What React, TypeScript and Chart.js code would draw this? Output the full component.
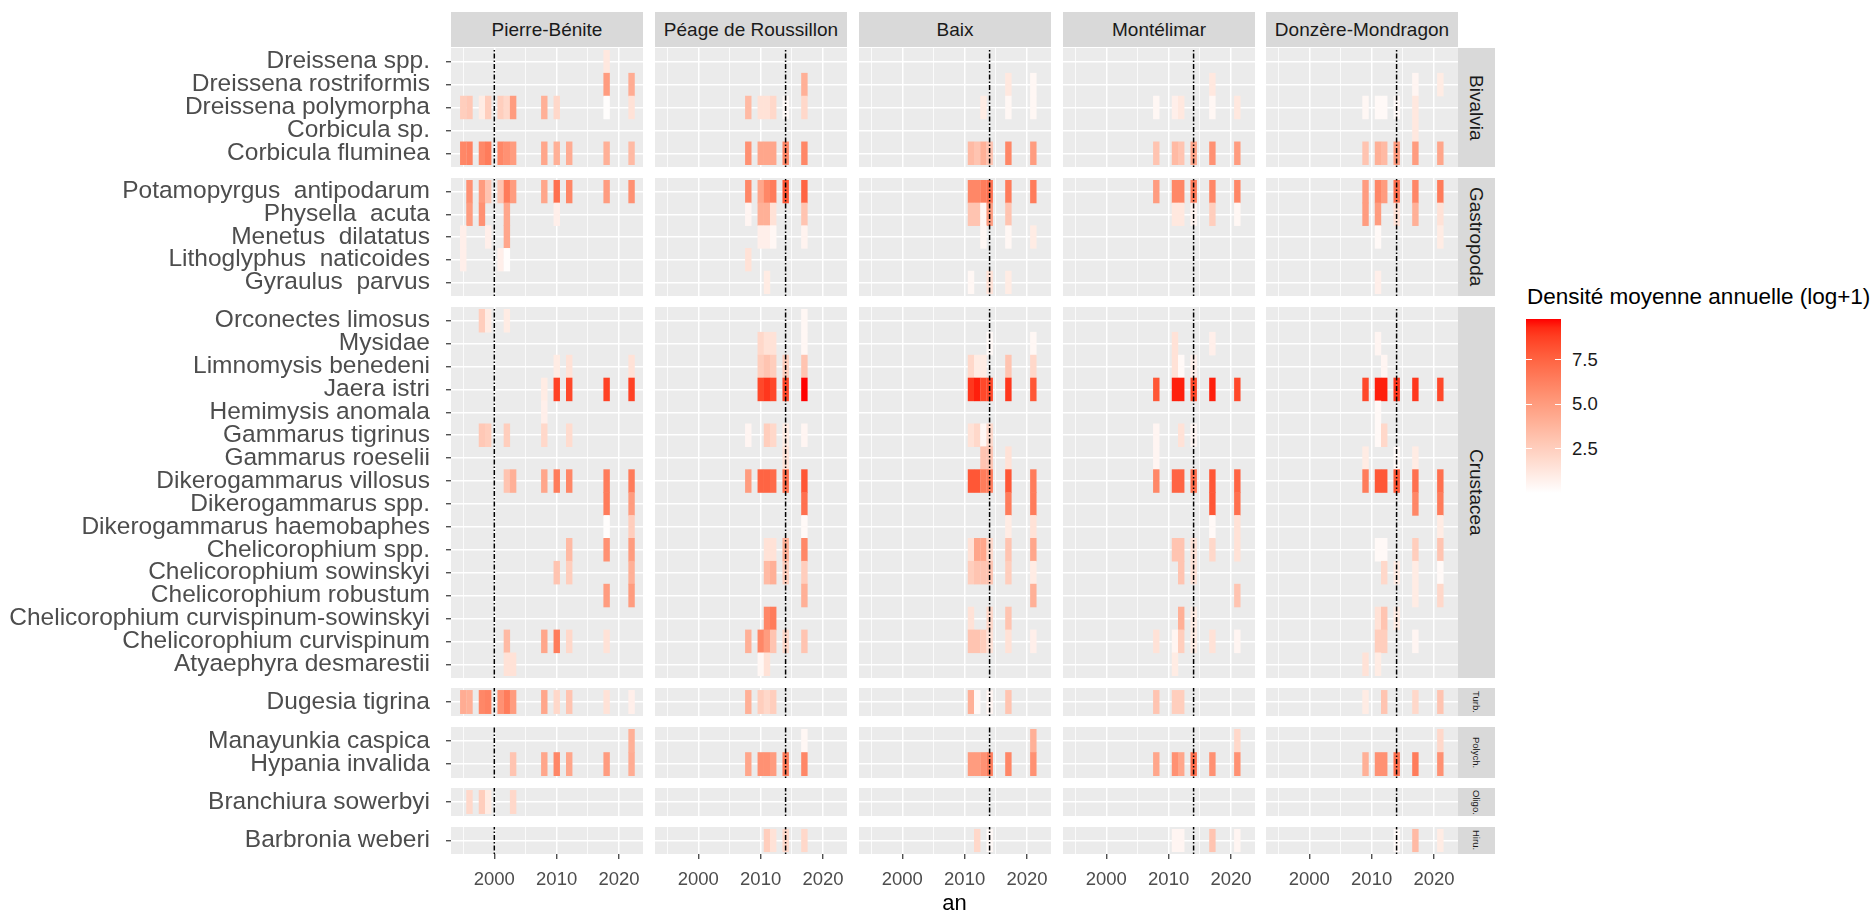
import React, { useEffect, useRef } from 'react';
import { Chart, registerables } from 'chart.js';

Chart.register(...registerables);

const FONT = "'Liberation Sans', Arial, Helvetica, sans-serif";
Chart.defaults.font.family = FONT;

// ---------------- data ----------------
const SITES = ['Pierre-Bénite', 'Péage de Roussillon', 'Baix', 'Montélimar', 'Donzère-Mondragon'];
const BREAK_YEARS = [2000, 2014, 2014, 2014, 2014];
const GROUP_LABELS = ['Bivalvia', 'Gastropoda', 'Crustacea', 'Turb.', 'Polych.', 'Oligo.', 'Hiru.'];

const BIVALVIA = ['Dreissena spp.', 'Dreissena rostriformis', 'Dreissena polymorpha', 'Corbicula sp.', 'Corbicula fluminea'];
const GASTROPODA = ['Potamopyrgus  antipodarum', 'Physella  acuta', 'Menetus  dilatatus', 'Lithoglyphus  naticoides', 'Gyraulus  parvus'];
const CRUSTACEA = [
  'Orconectes limosus', 'Mysidae', 'Limnomysis benedeni', 'Jaera istri', 'Hemimysis anomala',
  'Gammarus tigrinus', 'Gammarus roeselii', 'Dikerogammarus villosus', 'Dikerogammarus spp.',
  'Dikerogammarus haemobaphes', 'Chelicorophium spp.', 'Chelicorophium sowinskyi', 'Chelicorophium robustum',
  'Chelicorophium curvispinum-sowinskyi', 'Chelicorophium curvispinum', 'Atyaephyra desmarestii',
];
const TURBELLARIA = ['Dugesia tigrina'];
const POLYCHAETA = ['Manayunkia caspica', 'Hypania invalida'];
const OLIGOCHAETA = ['Branchiura sowerbyi'];
const HIRUDINEA = ['Barbronia weberi'];
const GROUP_SPECIES = [BIVALVIA, GASTROPODA, CRUSTACEA, TURBELLARIA, POLYCHAETA, OLIGOCHAETA, HIRUDINEA];

const X_MAJOR = [2000, 2010, 2020];
const X_MINOR = [1995, 2005, 2015];
const X_MIN = 1993.05;
const X_MAX = 2023.85;
const LEGEND_TICKS = [2.5, 5.0, 7.5];
const VALUE_MIN = 0;
const VALUE_MAX = 9.8;

type Row = [string, number[], number[]];

const PIERRE_BENITE: Row[] = [
  ['Dreissena spp.', [2018], [1.2]],
  ['Dreissena rostriformis', [2018, 2022], [5.0, 4.2]],
  ['Dreissena polymorpha', [1995, 1996, 1998, 1999, 2001, 2002, 2003, 2008, 2010, 2018, 2022], [2.5, 2.8, 1.0, 2.5, 2.5, 2.0, 5.0, 4.0, 2.0, 0.1, 1.5]],
  ['Corbicula fluminea', [1995, 1996, 1998, 1999, 2001, 2002, 2003, 2008, 2010, 2012, 2018, 2022], [6.0, 6.2, 6.0, 6.5, 6.0, 5.5, 5.0, 4.5, 4.0, 4.2, 4.0, 3.5]],
  ['Potamopyrgus antipodarum', [1996, 1998, 1999, 2001, 2002, 2003, 2008, 2010, 2012, 2018, 2022], [5.5, 5.0, 3.0, 3.0, 6.5, 5.0, 4.5, 7.0, 6.0, 5.0, 5.5]],
  ['Physella acuta', [1996, 1998, 2002, 2010], [5.0, 5.5, 4.5, 0.8]],
  ['Menetus dilatatus', [1995, 1999, 2002], [0.8, 0.8, 4.5]],
  ['Lithoglyphus naticoides', [1995, 2001, 2002], [0.8, 0.8, 0.1]],
  ['Orconectes limosus', [1998, 1999, 2002], [2.5, 1.0, 1.0]],
  ['Limnomysis benedeni', [2010, 2012, 2022], [1.0, 1.5, 1.5]],
  ['Jaera istri', [2008, 2010, 2012, 2018, 2022], [1.0, 8.7, 8.5, 8.7, 8.7]],
  ['Hemimysis anomala', [2008], [0.8]],
  ['Gammarus tigrinus', [1998, 1999, 2002, 2008, 2012], [2.8, 2.5, 2.5, 2.0, 1.8]],
  ['Dikerogammarus villosus', [2002, 2003, 2008, 2010, 2012, 2018, 2022], [3.0, 4.0, 4.5, 6.5, 6.0, 6.5, 6.5]],
  ['Dikerogammarus spp.', [2018, 2022], [6.5, 5.0]],
  ['Dikerogammarus haemobaphes', [2018, 2022], [0.1, 2.5]],
  ['Chelicorophium spp.', [2012, 2018, 2022], [3.5, 5.5, 5.0]],
  ['Chelicorophium sowinskyi', [2010, 2012, 2022], [3.0, 2.5, 4.0]],
  ['Chelicorophium robustum', [2018, 2022], [5.0, 5.0]],
  ['Chelicorophium curvispinum', [2002, 2008, 2010, 2012, 2018], [3.5, 4.5, 6.5, 2.0, 1.5]],
  ['Atyaephyra desmarestii', [2002, 2003], [1.5, 1.5]],
  ['Dugesia tigrina', [1995, 1996, 1998, 1999, 2001, 2002, 2003, 2008, 2010, 2012, 2018, 2022], [4.2, 4.0, 6.0, 6.2, 5.5, 6.5, 5.0, 4.5, 2.0, 3.0, 1.5, 0.8]],
  ['Manayunkia caspica', [2022], [4.0]],
  ['Hypania invalida', [2003, 2008, 2010, 2012, 2018, 2022], [3.0, 4.5, 6.0, 4.5, 5.0, 4.2]],
  ['Branchiura sowerbyi', [1996, 1998, 1999, 2003], [2.0, 2.5, 1.0, 2.0]],
];

const PEAGE_DE_ROUSSILLON: Row[] = [
  ['Dreissena rostriformis', [2017], [4.0]],
  ['Dreissena polymorpha', [2008, 2010, 2011, 2012, 2014, 2017], [3.5, 1.5, 1.5, 2.0, 0.3, 2.0]],
  ['Corbicula fluminea', [2008, 2010, 2011, 2012, 2014, 2017], [5.5, 4.5, 4.5, 4.5, 6.0, 6.0]],
  ['Potamopyrgus antipodarum', [2008, 2010, 2011, 2012, 2014, 2017], [6.0, 4.5, 6.0, 6.5, 8.0, 7.5]],
  ['Physella acuta', [2008, 2010, 2011, 2012, 2017], [0.5, 4.0, 4.0, 1.5, 3.0]],
  ['Menetus dilatatus', [2010, 2011, 2012, 2017], [0.8, 0.8, 0.4, 0.6]],
  ['Lithoglyphus naticoides', [2008], [1.5]],
  ['Gyraulus parvus', [2011], [1.0]],
  ['Orconectes limosus', [2017], [0.4]],
  ['Mysidae', [2010, 2011, 2012, 2017], [2.0, 1.5, 1.5, 0.4]],
  ['Limnomysis benedeni', [2010, 2011, 2012, 2014, 2017], [2.5, 3.0, 2.5, 2.5, 3.0]],
  ['Jaera istri', [2010, 2011, 2012, 2014, 2017], [8.5, 9.0, 8.5, 8.5, 9.8]],
  ['Gammarus tigrinus', [2008, 2011, 2012, 2014, 2017], [0.5, 2.5, 2.0, 1.0, 0.5]],
  ['Gammarus roeselii', [2014], [1.5]],
  ['Dikerogammarus villosus', [2008, 2010, 2011, 2012, 2014, 2017], [5.0, 7.5, 7.5, 7.2, 7.0, 8.0]],
  ['Dikerogammarus spp.', [2017], [7.0]],
  ['Dikerogammarus haemobaphes', [2017], [0.3]],
  ['Chelicorophium spp.', [2011, 2012, 2014, 2017], [1.5, 1.5, 4.0, 6.0]],
  ['Chelicorophium sowinskyi', [2011, 2012, 2014, 2017], [3.5, 4.0, 2.5, 2.5]],
  ['Chelicorophium robustum', [2017], [4.0]],
  ['Chelicorophium curvispinum-sowinskyi', [2011, 2012], [6.0, 6.5]],
  ['Chelicorophium curvispinum', [2008, 2010, 2011, 2012, 2014, 2017], [4.0, 6.0, 5.0, 3.0, 2.0, 3.0]],
  ['Atyaephyra desmarestii', [2010, 2011], [0.4, 1.5]],
  ['Dugesia tigrina', [2008, 2010, 2011, 2012], [4.0, 2.5, 2.0, 2.5]],
  ['Manayunkia caspica', [2017], [0.4]],
  ['Hypania invalida', [2008, 2010, 2011, 2012, 2014, 2017], [4.5, 5.5, 5.5, 5.0, 6.5, 6.0]],
  ['Barbronia weberi', [2011, 2012, 2014, 2017], [2.5, 1.5, 2.0, 2.0]],
];

const BAIX: Row[] = [
  ['Dreissena rostriformis', [2017, 2021], [1.2, 0.4]],
  ['Dreissena polymorpha', [2013, 2017, 2021], [1.0, 0.4, 0.4]],
  ['Corbicula fluminea', [2011, 2012, 2013, 2014, 2017, 2021], [3.5, 3.0, 4.0, 3.0, 6.0, 5.0]],
  ['Potamopyrgus antipodarum', [2011, 2012, 2013, 2014, 2017, 2021], [6.0, 6.0, 6.5, 7.0, 6.5, 6.5]],
  ['Physella acuta', [2011, 2012, 2013, 2014, 2017], [3.0, 3.0, 0.4, 5.0, 3.0]],
  ['Menetus dilatatus', [2013, 2017, 2021], [0.4, 0.4, 1.0]],
  ['Gyraulus parvus', [2011, 2014, 2017], [0.4, 1.5, 1.0]],
  ['Mysidae', [2014, 2021], [0.3, 0.4]],
  ['Limnomysis benedeni', [2011, 2012, 2013, 2017, 2021], [2.0, 1.0, 1.0, 3.0, 2.0]],
  ['Jaera istri', [2011, 2012, 2013, 2014, 2017, 2021], [9.0, 9.5, 8.5, 8.5, 9.0, 8.0]],
  ['Gammarus tigrinus', [2011, 2012, 2013, 2014], [1.5, 2.0, 0.4, 2.0]],
  ['Gammarus roeselii', [2013, 2014, 2017], [3.0, 3.0, 1.5]],
  ['Dikerogammarus villosus', [2011, 2012, 2013, 2014, 2017, 2021], [8.0, 8.0, 6.5, 6.5, 8.0, 6.5]],
  ['Dikerogammarus spp.', [2017, 2021], [6.5, 6.5]],
  ['Dikerogammarus haemobaphes', [2017, 2021], [1.0, 1.5]],
  ['Chelicorophium spp.', [2011, 2012, 2013, 2014, 2017, 2021], [1.5, 4.5, 4.5, 2.0, 3.0, 4.5]],
  ['Chelicorophium sowinskyi', [2011, 2012, 2013, 2014, 2017, 2021], [2.5, 3.0, 3.0, 3.0, 2.5, 1.0]],
  ['Chelicorophium robustum', [2021], [4.0]],
  ['Chelicorophium curvispinum-sowinskyi', [2011, 2014, 2017], [1.5, 2.0, 3.0]],
  ['Chelicorophium curvispinum', [2011, 2012, 2013, 2014, 2017, 2021], [3.0, 3.0, 2.5, 1.5, 1.5, 0.8]],
  ['Dugesia tigrina', [2011, 2012, 2014, 2017], [4.0, 0.3, 0.5, 3.0]],
  ['Manayunkia caspica', [2021], [4.0]],
  ['Hypania invalida', [2011, 2012, 2013, 2014, 2017, 2021], [5.0, 5.0, 5.5, 6.5, 6.0, 5.5]],
  ['Barbronia weberi', [2012, 2014], [2.0, 0.3]],
];

const MONTELIMAR: Row[] = [
  ['Dreissena rostriformis', [2017], [1.2]],
  ['Dreissena polymorpha', [2008, 2011, 2012, 2017, 2021], [0.4, 0.8, 1.2, 0.4, 1.2]],
  ['Corbicula fluminea', [2008, 2011, 2012, 2014, 2017, 2021], [3.0, 3.5, 3.0, 4.5, 5.5, 5.0]],
  ['Potamopyrgus antipodarum', [2008, 2011, 2012, 2014, 2017, 2021], [5.0, 6.0, 6.0, 6.5, 6.0, 6.0]],
  ['Physella acuta', [2011, 2012, 2014, 2017, 2021], [1.2, 1.2, 0.6, 2.5, 0.4]],
  ['Mysidae', [2011, 2017], [1.5, 0.8]],
  ['Limnomysis benedeni', [2011, 2012, 2014], [1.5, 0.3, 0.8]],
  ['Jaera istri', [2008, 2011, 2012, 2014, 2017, 2021], [8.0, 9.5, 9.5, 8.5, 9.5, 8.5]],
  ['Gammarus tigrinus', [2008, 2012, 2014], [0.5, 1.5, 0.5]],
  ['Gammarus roeselii', [2008], [0.5]],
  ['Dikerogammarus villosus', [2008, 2011, 2012, 2014, 2017, 2021], [6.0, 7.5, 7.5, 7.0, 8.0, 7.5]],
  ['Dikerogammarus spp.', [2017, 2021], [8.0, 7.0]],
  ['Dikerogammarus haemobaphes', [2017, 2021], [0.3, 1.5]],
  ['Chelicorophium spp.', [2011, 2012, 2014, 2017, 2021], [3.0, 3.0, 1.5, 2.0, 1.5]],
  ['Chelicorophium sowinskyi', [2012, 2014], [3.0, 1.5]],
  ['Chelicorophium robustum', [2021], [3.0]],
  ['Chelicorophium curvispinum-sowinskyi', [2012, 2014], [4.0, 1.0]],
  ['Chelicorophium curvispinum', [2008, 2011, 2012, 2014, 2017, 2021], [1.5, 0.5, 2.5, 1.0, 1.5, 0.5]],
  ['Atyaephyra desmarestii', [2011], [1.0]],
  ['Dugesia tigrina', [2008, 2011, 2012], [3.0, 2.5, 2.5]],
  ['Manayunkia caspica', [2021], [2.0]],
  ['Hypania invalida', [2008, 2011, 2012, 2014, 2017, 2021], [4.5, 5.5, 4.5, 7.0, 5.5, 5.5]],
  ['Barbronia weberi', [2011, 2012, 2017, 2021], [0.5, 0.5, 3.0, 0.5]],
];

const DONZERE_MONDRAGON: Row[] = [
  ['Dreissena rostriformis', [2017, 2021], [0.5, 1.0]],
  ['Dreissena polymorpha', [2009, 2011, 2012, 2014, 2017], [0.4, 0.3, 0.3, 0.3, 1.2]],
  ['Corbicula sp.', [2017], [1.2]],
  ['Corbicula fluminea', [2009, 2011, 2012, 2014, 2017, 2021], [3.0, 4.0, 3.5, 5.0, 5.0, 4.5]],
  ['Potamopyrgus antipodarum', [2009, 2011, 2012, 2014, 2017, 2021], [5.0, 6.0, 5.0, 7.0, 6.0, 6.5]],
  ['Physella acuta', [2009, 2011, 2014, 2017, 2021], [5.0, 5.0, 1.5, 4.0, 1.5]],
  ['Menetus dilatatus', [2011, 2021], [0.3, 1.0]],
  ['Gyraulus parvus', [2011], [0.8]],
  ['Mysidae', [2011], [0.5]],
  ['Limnomysis benedeni', [2012], [0.5]],
  ['Jaera istri', [2009, 2011, 2012, 2014, 2017, 2021], [8.5, 9.5, 9.5, 9.0, 9.0, 8.5]],
  ['Hemimysis anomala', [2011], [0.3]],
  ['Gammarus tigrinus', [2011, 2012], [0.3, 2.0]],
  ['Gammarus roeselii', [2009, 2014, 2017], [1.0, 0.3, 1.0]],
  ['Dikerogammarus villosus', [2009, 2011, 2012, 2014, 2017, 2021], [6.5, 8.0, 8.0, 8.0, 7.0, 7.0]],
  ['Dikerogammarus spp.', [2017, 2021], [6.0, 6.5]],
  ['Dikerogammarus haemobaphes', [2021], [1.0]],
  ['Chelicorophium spp.', [2011, 2012, 2017, 2021], [0.3, 0.3, 2.5, 3.0]],
  ['Chelicorophium sowinskyi', [2012, 2014, 2017, 2021], [2.0, 1.0, 1.0, 0.3]],
  ['Chelicorophium robustum', [2017, 2021], [1.0, 2.0]],
  ['Chelicorophium curvispinum-sowinskyi', [2011, 2012, 2014], [1.5, 3.0, 1.0]],
  ['Chelicorophium curvispinum', [2011, 2012, 2017], [2.5, 2.5, 0.5]],
  ['Atyaephyra desmarestii', [2009, 2011], [1.5, 1.0]],
  ['Dugesia tigrina', [2009, 2012, 2017, 2021], [1.0, 3.0, 2.0, 3.0]],
  ['Manayunkia caspica', [2021], [2.0]],
  ['Hypania invalida', [2009, 2011, 2012, 2014, 2017, 2021], [4.0, 5.5, 5.5, 7.0, 6.5, 5.5]],
  ['Barbronia weberi', [2014, 2017, 2021], [0.3, 3.5, 1.0]],
];

const SITE_DATA = [PIERRE_BENITE, PEAGE_DE_ROUSSILLON, BAIX, MONTELIMAR, DONZERE_MONDRAGON];

// ---------------- layout ----------------
const COL_LEFT = [451, 655, 859, 1063, 1266];
const PANEL_W = 192;
const ROW_TOP = [48, 178, 307, 688, 727, 788, 827];
const ROW_BOTTOM = [167, 296, 678, 716, 778, 816, 854];
const STRIP_TOP = 12;
const STRIP_H = 35;
const RSTRIP_LEFT = 1458;
const RSTRIP_W = 37;
const X_AXIS_H = 44;

// ---------------- colour (Lab interpolation white -> red) ----------------
const toLin = (c: number) => { c /= 255; return c <= 0.04045 ? c / 12.92 : Math.pow((c + 0.055) / 1.055, 2.4); };
const fromLin = (c: number) => {
  const v = c <= 0.0031308 ? 12.92 * c : 1.055 * Math.pow(c, 1 / 2.4) - 0.055;
  return Math.round(Math.max(0, Math.min(1, v)) * 255);
};
const Xn = 0.95047, Yn = 1.0, Zn = 1.08883;
const fLab = (t: number) => (t > 216 / 24389 ? Math.cbrt(t) : ((24389 / 27) * t + 16) / 116);
const fInv = (t: number) => (t * t * t > 216 / 24389 ? t * t * t : (116 * t - 16) / (24389 / 27));
function rgb2lab(rgb: number[]) {
  const R = toLin(rgb[0]), G = toLin(rgb[1]), B = toLin(rgb[2]);
  const X = (0.4124564 * R + 0.3575761 * G + 0.1804375 * B) / Xn;
  const Y = (0.2126729 * R + 0.7151522 * G + 0.072175 * B) / Yn;
  const Z = (0.0193339 * R + 0.119192 * G + 0.9503041 * B) / Zn;
  const fx = fLab(X), fy = fLab(Y), fz = fLab(Z);
  return [116 * fy - 16, 500 * (fx - fy), 200 * (fy - fz)];
}
function lab2rgb(lab: number[]) {
  const fy = (lab[0] + 16) / 116, fx = fy + lab[1] / 500, fz = fy - lab[2] / 200;
  const X = fInv(fx) * Xn, Y = fInv(fy) * Yn, Z = fInv(fz) * Zn;
  const R = 3.2404542 * X - 1.5371385 * Y - 0.4985314 * Z;
  const G = -0.969266 * X + 1.8760108 * Y + 0.041556 * Z;
  const B = 0.0556434 * X - 0.2040259 * Y + 1.0572252 * Z;
  return [fromLin(R), fromLin(G), fromLin(B)];
}
const LAB_LOW = rgb2lab([255, 255, 255]);
const LAB_HIGH = rgb2lab([255, 0, 0]);
function fillColor(v: number) {
  const t = Math.max(0, Math.min(1, (v - VALUE_MIN) / (VALUE_MAX - VALUE_MIN)));
  const lab = LAB_LOW.map((l, i) => l + (LAB_HIGH[i] - l) * t);
  const [r, g, b] = lab2rgb(lab);
  return `rgb(${r},${g},${b})`;
}

const norm = (s: string) => s.replace(/\s+/g, ' ').trim();

// ---------------- panel ----------------
function Panel({ r, c }: { r: number; c: number }) {
  const ref = useRef<HTMLCanvasElement>(null);
  const species = GROUP_SPECIES[r];
  const isLeft = c === 0;
  const isBottom = r === GROUP_SPECIES.length - 1;
  const ph = ROW_BOTTOM[r] - ROW_TOP[r];
  const axisW = isLeft ? COL_LEFT[0] : 0;
  const axisH = isBottom ? X_AXIS_H : 0;
  const left = COL_LEFT[c] - axisW;
  const width = PANEL_W + axisW;
  const height = ph + axisH;

  useEffect(() => {
    const keys = species.map(norm);
    const points: { x: number[]; y: number }[] = [];
    const colors: string[] = [];
    SITE_DATA[c].forEach(([name, years, vals]) => {
      const idx = keys.indexOf(norm(name));
      if (idx < 0) return;
      years.forEach((yr, k) => {
        points.push({ x: [yr - 0.5, yr + 0.53], y: idx });
        colors.push(fillColor(vals[k]));
      });
    });
    const rowPx = ph / (species.length + 0.2);
    const breakYear = BREAK_YEARS[c];

    const chart = new Chart(ref.current as HTMLCanvasElement, {
      type: 'bar',
      data: {
        datasets: [
          {
            data: points as any,
            backgroundColor: colors,
            borderWidth: 0,
            barThickness: rowPx + 0.6,
            inflateAmount: 0,
          } as any,
        ],
      },
      options: {
        indexAxis: 'y',
        responsive: false,
        maintainAspectRatio: false,
        animation: false,
        devicePixelRatio: 1,
        events: [],
        layout: { padding: 0, autoPadding: false },
        plugins: { legend: { display: false }, tooltip: { enabled: false }, title: { display: false } },
        scales: {
          x: {
            type: 'linear',
            position: 'bottom',
            offset: false,
            beginAtZero: false,
            min: X_MIN,
            max: X_MAX,
            afterBuildTicks: (s: any) => {
              s.ticks = [...X_MINOR, ...X_MAJOR].sort((a, b) => a - b).map((v) => ({ value: v }));
            },
            afterFit: (s: any) => {
              s.height = axisH;
              s.paddingLeft = 0;
              s.paddingRight = 0;
            },
            border: { display: false },
            grid: {
              offset: false,
              color: '#FFFFFF',
              lineWidth: (ctx: any) => (X_MAJOR.includes(ctx.tick?.value) ? 1.5 : 0.8),
              drawTicks: isBottom,
              tickLength: 5,
              tickWidth: 1.2,
              tickColor: (ctx: any) => (X_MAJOR.includes(ctx.tick?.value) ? '#333333' : 'rgba(0,0,0,0)'),
            },
            ticks: {
              display: isBottom,
              autoSkip: false,
              maxRotation: 0,
              padding: 10,
              color: '#4D4D4D',
              font: { family: FONT, size: 18.5 },
              callback: (v: any) => (X_MAJOR.includes(Number(v)) ? String(v) : ''),
            },
          },
          y: {
            type: 'linear',
            reverse: true,
            offset: false,
            min: -0.6,
            max: species.length - 0.4,
            afterBuildTicks: (s: any) => {
              s.ticks = species.map((_, i) => ({ value: i }));
            },
            afterFit: (s: any) => {
              s.width = axisW;
              s.paddingTop = 0;
              s.paddingBottom = 0;
            },
            border: { display: false },
            grid: {
              offset: false,
              color: '#FFFFFF',
              lineWidth: 1.5,
              drawTicks: isLeft,
              tickLength: 5,
              tickWidth: 1.2,
              tickColor: '#333333',
            },
            ticks: {
              display: isLeft,
              autoSkip: false,
              padding: 16,
              color: '#4D4D4D',
              font: { family: FONT, size: 24.5 },
              callback: (v: any) => species[Number(v)] ?? '',
            },
          },
        },
      } as any,
      plugins: [
        {
          id: 'panelFrame',
          beforeDraw(ch: any) {
            const a = ch.chartArea;
            const g = ch.ctx;
            g.save();
            g.fillStyle = '#EBEBEB';
            g.fillRect(a.left, a.top, a.right - a.left, a.bottom - a.top);
            g.restore();
          },
          afterDatasetsDraw(ch: any) {
            const a = ch.chartArea;
            const g = ch.ctx;
            const x = ch.scales.x.getPixelForValue(breakYear);
            g.save();
            g.strokeStyle = '#000000';
            g.lineWidth = 1.5;
            g.setLineDash([1.5, 2, 5, 2]);
            g.beginPath();
            g.moveTo(x, a.bottom);
            g.lineTo(x, a.top);
            g.stroke();
            g.restore();
          },
        },
      ],
    });
    return () => chart.destroy();
  }, []);

  return (
    <canvas
      ref={ref}
      width={width}
      height={height}
      style={{ position: 'absolute', left, top: ROW_TOP[r], width, height }}
    />
  );
}

function Legend() {
  const barTop = 319, barH = 174, barLeft = 1526, barW = 35;
  const stops: string[] = [];
  for (let i = 0; i <= 20; i++) {
    const v = VALUE_MIN + ((VALUE_MAX - VALUE_MIN) * i) / 20;
    stops.push(`${fillColor(v)} ${(i / 20) * 100}%`);
  }
  const yOf = (v: number) => barTop + barH - ((v - VALUE_MIN) / (VALUE_MAX - VALUE_MIN)) * barH;
  return (
    <>
      <div style={{ position: 'absolute', left: 1527, top: 284, fontSize: 22.5, lineHeight: '26px', color: '#000', whiteSpace: 'nowrap', fontFamily: FONT }}>
        Densité moyenne annuelle (log+1)
      </div>
      <div style={{ position: 'absolute', left: barLeft, top: barTop, width: barW, height: barH, background: `linear-gradient(to top, ${stops.join(', ')})` }} />
      {LEGEND_TICKS.map((t) => (
        <React.Fragment key={t}>
          <div style={{ position: 'absolute', left: barLeft, top: yOf(t) - 0.5, width: 6, height: 1, background: '#FFFFFF' }} />
          <div style={{ position: 'absolute', left: barLeft + barW - 6, top: yOf(t) - 0.5, width: 6, height: 1, background: '#FFFFFF' }} />
          <div style={{ position: 'absolute', left: 1572, top: yOf(t) - 11, height: 22, lineHeight: '22px', fontSize: 18.5, color: '#1A1A1A', fontFamily: FONT }}>
            {t.toFixed(1)}
          </div>
        </React.Fragment>
      ))}
    </>
  );
}

export default function App() {
  const panels: JSX.Element[] = [];
  GROUP_SPECIES.forEach((_, r) => {
    SITES.forEach((__, c) => {
      panels.push(<Panel key={`${r}-${c}`} r={r} c={c} />);
    });
  });
  return (
    <div style={{ position: 'absolute', left: 0, top: 0, width: 1872, height: 913, overflow: 'hidden', background: '#FFFFFF', fontFamily: FONT }}>
      {SITES.map((s, c) => (
        <div key={s} style={{ position: 'absolute', left: COL_LEFT[c], top: STRIP_TOP, width: PANEL_W, height: STRIP_H, background: '#D9D9D9', color: '#1A1A1A', fontSize: 19, display: 'flex', alignItems: 'center', justifyContent: 'center', whiteSpace: 'nowrap' }}>
          {s}
        </div>
      ))}
      {GROUP_LABELS.map((g, r) => (
        <div key={g} style={{ position: 'absolute', left: RSTRIP_LEFT, top: ROW_TOP[r], width: RSTRIP_W, height: ROW_BOTTOM[r] - ROW_TOP[r], background: '#D9D9D9', color: '#1A1A1A', display: 'flex', alignItems: 'center', justifyContent: 'center', overflow: 'hidden' }}>
          <span style={{ writingMode: 'vertical-rl', fontSize: r < 3 ? 19 : 9.5, whiteSpace: 'nowrap', lineHeight: 1 }}>{g}</span>
        </div>
      ))}
      {panels}
      <div style={{ position: 'absolute', left: COL_LEFT[0], width: COL_LEFT[4] + PANEL_W - COL_LEFT[0], top: 892, height: 21, lineHeight: '21px', textAlign: 'center', fontSize: 22, color: '#000' }}>
        an
      </div>
      <Legend />
    </div>
  );
}
